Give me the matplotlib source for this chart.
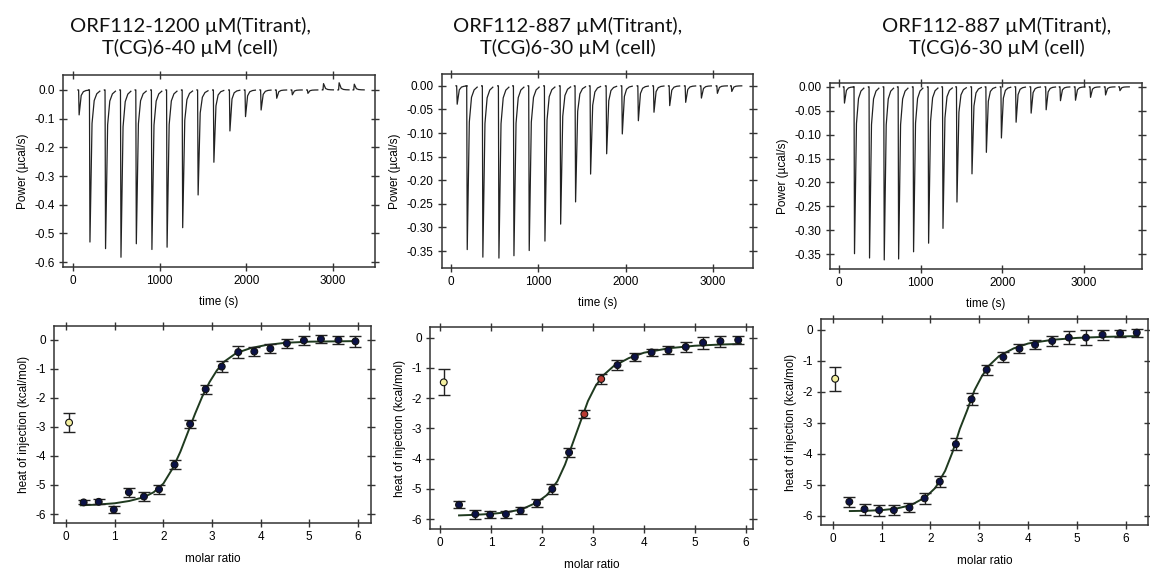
import numpy as np
import matplotlib
matplotlib.use("Agg")
import matplotlib.pyplot as plt
from matplotlib.ticker import FormatStrFormatter

# ---- raw thermograms (injection time, peak power) ----
t_a = [65, 190, 370, 548, 725, 905, 1080, 1260, 1438, 1620, 1805, 1985, 2165, 2345, 2525, 2705, 2885, 3065, 3240]
p_a = [-0.087, -0.53, -0.553, -0.583, -0.536, -0.556, -0.548, -0.48, -0.366, -0.252, -0.143, -0.093,
       -0.07, -0.029, -0.017, -0.012, 0.022, 0.025, 0.02]

t_b = [65, 180, 359, 543, 715, 890, 1070, 1250, 1421, 1593, 1777, 1956, 2140, 2319, 2499, 2682, 2862, 3045, 3210]
p_b = [-0.039, -0.347, -0.363, -0.365, -0.36, -0.349, -0.329, -0.293, -0.246, -0.187, -0.144, -0.102,
       -0.074, -0.056, -0.042, -0.035, -0.026, -0.016, -0.012]

t_c = [61, 184, 368, 548, 724, 907, 1091, 1267, 1438, 1622, 1798, 1982, 2162, 2346, 2530, 2705, 2889, 3073, 3257, 3433]
p_c = [-0.034, -0.349, -0.358, -0.362, -0.36, -0.345, -0.327, -0.296, -0.241, -0.182, -0.137, -0.107,
       -0.074, -0.055, -0.048, -0.029, -0.028, -0.022, -0.017, -0.008]

yt_a = [-0.6, -0.5, -0.4, -0.3, -0.2, -0.1, 0.0]
yt_bc = [-0.35, -0.30, -0.25, -0.20, -0.15, -0.10, -0.05, 0.0]

# ---- integrated heats ----
mr_a = [0.06, 0.36, 0.67, 0.98, 1.29, 1.6, 1.91, 2.23, 2.55, 2.87, 3.2, 3.54, 3.87, 4.2, 4.54, 4.89, 5.24, 5.6, 5.95]
dh_a = [-2.85, -5.6, -5.58, -5.85, -5.25, -5.4, -5.15, -4.3, -2.9, -1.7, -0.92, -0.42, -0.4, -0.3, -0.12,
        -0.02, 0.03, 0.0, -0.05]
err_a = [0.33, 0.07, 0.08, 0.13, 0.16, 0.15, 0.15, 0.15, 0.15, 0.15, 0.2, 0.2, 0.15, 0.15, 0.15, 0.15, 0.15, 0.15, 0.18]
fx_a = [0.3, 0.6, 1.0, 1.3, 1.6, 1.8, 2.0, 2.2, 2.35, 2.5, 2.65, 2.8, 2.95, 3.1, 3.25, 3.5, 3.8, 4.1, 4.5, 5.0, 5.5, 6.0]
fy_a = [-5.7, -5.68, -5.63, -5.55, -5.42, -5.25, -4.95, -4.4, -3.85, -3.2, -2.55, -1.95, -1.45, -1.05,
        -0.75, -0.45, -0.28, -0.18, -0.1, -0.06, -0.05, -0.04]

mr_b = [0.07, 0.37, 0.69, 0.98, 1.29, 1.58, 1.9, 2.2, 2.53, 2.83, 3.16, 3.48, 3.82, 4.15, 4.48, 4.82, 5.16, 5.5, 5.85]
dh_b = [-1.48, -5.53, -5.84, -5.86, -5.84, -5.73, -5.47, -5.01, -3.8, -2.53, -1.37, -0.91, -0.64, -0.49,
        -0.42, -0.31, -0.17, -0.12, -0.08]
err_b = [0.43, 0.12, 0.15, 0.12, 0.12, 0.12, 0.13, 0.17, 0.15, 0.13, 0.17, 0.17, 0.12, 0.12, 0.13, 0.17, 0.2, 0.18, 0.14]
fx_b = [0.37, 0.7, 1.0, 1.3, 1.6, 1.9, 2.1, 2.3, 2.45, 2.6, 2.75, 2.9, 3.05, 3.2, 3.4, 3.7, 4.0, 4.5, 5.0, 5.5, 5.9]
fy_b = [-5.88, -5.86, -5.83, -5.78, -5.68, -5.45, -5.2, -4.75, -4.2, -3.5, -2.8, -2.1, -1.6, -1.25,
        -0.95, -0.68, -0.5, -0.35, -0.27, -0.23, -0.21]

mr_c = [0.05, 0.34, 0.65, 0.95, 1.25, 1.57, 1.88, 2.19, 2.52, 2.84, 3.15, 3.49, 3.82, 4.14, 4.49, 4.83,
        5.18, 5.52, 5.88, 6.22]
dh_c = [-1.58, -5.55, -5.79, -5.82, -5.82, -5.74, -5.44, -4.9, -3.69, -2.24, -1.29, -0.88, -0.61, -0.48,
        -0.36, -0.25, -0.25, -0.16, -0.11, -0.09]
err_c = [0.38, 0.17, 0.18, 0.18, 0.15, 0.14, 0.17, 0.17, 0.2, 0.2, 0.17, 0.17, 0.14, 0.14, 0.17, 0.2, 0.25,
         0.17, 0.12, 0.13]
fx_c = [0.35, 0.7, 1.0, 1.3, 1.6, 1.9, 2.1, 2.3, 2.45, 2.6, 2.75, 2.9, 3.05, 3.2, 3.4, 3.7, 4.0, 4.5, 5.0,
        5.5, 6.0, 6.25]
fy_c = [-5.85, -5.84, -5.82, -5.77, -5.66, -5.4, -5.1, -4.55, -3.95, -3.2, -2.6, -1.95, -1.5, -1.15,
        -0.85, -0.6, -0.44, -0.32, -0.26, -0.23, -0.21, -0.2]

# points flagged in the middle panel
red_b = [9, 10]

titles = ["ORF112-1200 \u00b5M(Titrant),\nT(CG)6-40 \u00b5M (cell)",
          "ORF112-887 \u00b5M(Titrant),\nT(CG)6-30 \u00b5M (cell)",
          "ORF112-887 \u00b5M(Titrant),\nT(CG)6-30 \u00b5M (cell)"]

plt.rcParams['font.family'] = ['Liberation Sans', 'DejaVu Sans']
plt.rcParams['axes.unicode_minus'] = False

W, H = 1150, 570
fig = plt.figure(figsize=(W / 100, H / 100), dpi=100)


def box(l, r, t, b):
    return [l / W, 1 - b / H, (r - l) / W, (b - t) / H]


def style(ax):
    for s in ax.spines.values():
        s.set_linewidth(1.1)
        s.set_color('#333333')
    ax.tick_params(direction='inout', length=6, width=1, top=True, right=True,
                   labelsize=8.5, color='#333333', pad=3)


def thermo(ax, times, peaks, yt, fmt):
    # each injection drawn as its own needle
    offs = [-8, 0, 6, 30, 55, 85, 120]
    frac = [0, 0, 1, 0.22, 0.07, 0.025, 0.008]
    for t, p in zip(times, peaks):
        xs = [t + o for o in offs]
        ys = [p * f for f in frac]
        ax.plot(xs, ys, color='#222222', lw=0.9)
    ax.set_xticks([0, 1000, 2000, 3000])
    ax.set_yticks(yt)
    ax.set_yticklabels([fmt % abs(v) if v == 0 else fmt % v for v in yt])
    ax.set_xlabel("time (s)", fontsize=8.5, labelpad=6)
    ax.set_ylabel("Power (\u00b5cal/s)", fontsize=8.5, labelpad=4)
    style(ax)


def heats(ax, mr, dh, err, fx, fy, cols):
    ax.plot(fx, fy, color='#1f3a1f', lw=1.4, zorder=2)
    ax.errorbar(mr, dh, yerr=err, fmt='none', ecolor='#222222', elinewidth=1, capsize=4.5, capthick=1, zorder=3)
    ax.scatter(mr, dh, s=24, c=cols, edgecolors='#111111', linewidths=0.8, zorder=4)
    ax.set_xticks(range(0, 7))
    ax.set_yticks(range(-6, 1))
    ax.set_xlabel("molar ratio", fontsize=8.5, labelpad=7)
    ax.set_ylabel("heat of injection (kcal/mol)", fontsize=8.5, labelpad=4)
    style(ax)


navy = '#0b1146'
yel = '#f4f0a0'

# top row
ax1 = fig.add_axes(box(63, 375, 75, 267))
thermo(ax1, t_a, p_a, yt_a, '%.1f')
ax1.set_xlim(-115, 3485)
ax1.set_ylim(-0.617, 0.052)

ax2 = fig.add_axes(box(442, 753, 74, 268))
thermo(ax2, t_b, p_b, yt_bc, '%.2f')
ax2.set_xlim(-103, 3459)
ax2.set_ylim(-0.386, 0.025)

ax3 = fig.add_axes(box(830, 1142, 83, 269))
thermo(ax3, t_c, p_c, yt_bc, '%.2f')
ax3.set_xlim(-110, 3709)
ax3.set_ylim(-0.381, 0.008)

# bottom row
cols_a = [yel] + [navy] * (len(mr_a) - 1)
cols_b = [yel] + [('#b83a32' if i in red_b else navy) for i in range(1, len(mr_b))]
cols_c = [yel] + [navy] * (len(mr_c) - 1)

ax4 = fig.add_axes(box(54, 371, 326, 523))
heats(ax4, mr_a, dh_a, err_a, fx_a, fy_a, cols_a)
ax4.set_xlim(-0.25, 6.27)
ax4.set_ylim(-6.31, 0.48)

ax5 = fig.add_axes(box(430, 753, 327, 529))
heats(ax5, mr_b, dh_b, err_b, fx_b, fy_b, cols_b)
ax5.set_xlim(-0.2, 6.14)
ax5.set_ylim(-6.33, 0.35)

ax6 = fig.add_axes(box(821, 1148, 319, 525))
heats(ax6, mr_c, dh_c, err_c, fx_c, fy_c, cols_c)
ax6.set_xlim(-0.24, 6.45)
ax6.set_ylim(-6.3, 0.35)

for xc, txt in zip([190, 568, 997], titles):
    fig.text(xc / W, 1 - 37 / H, txt, ha='center', va='center', fontsize=14.5,
             family=['Lato', 'DejaVu Sans'], linespacing=1.3, color='#111111')

fig.savefig("out.png", dpi=100)
